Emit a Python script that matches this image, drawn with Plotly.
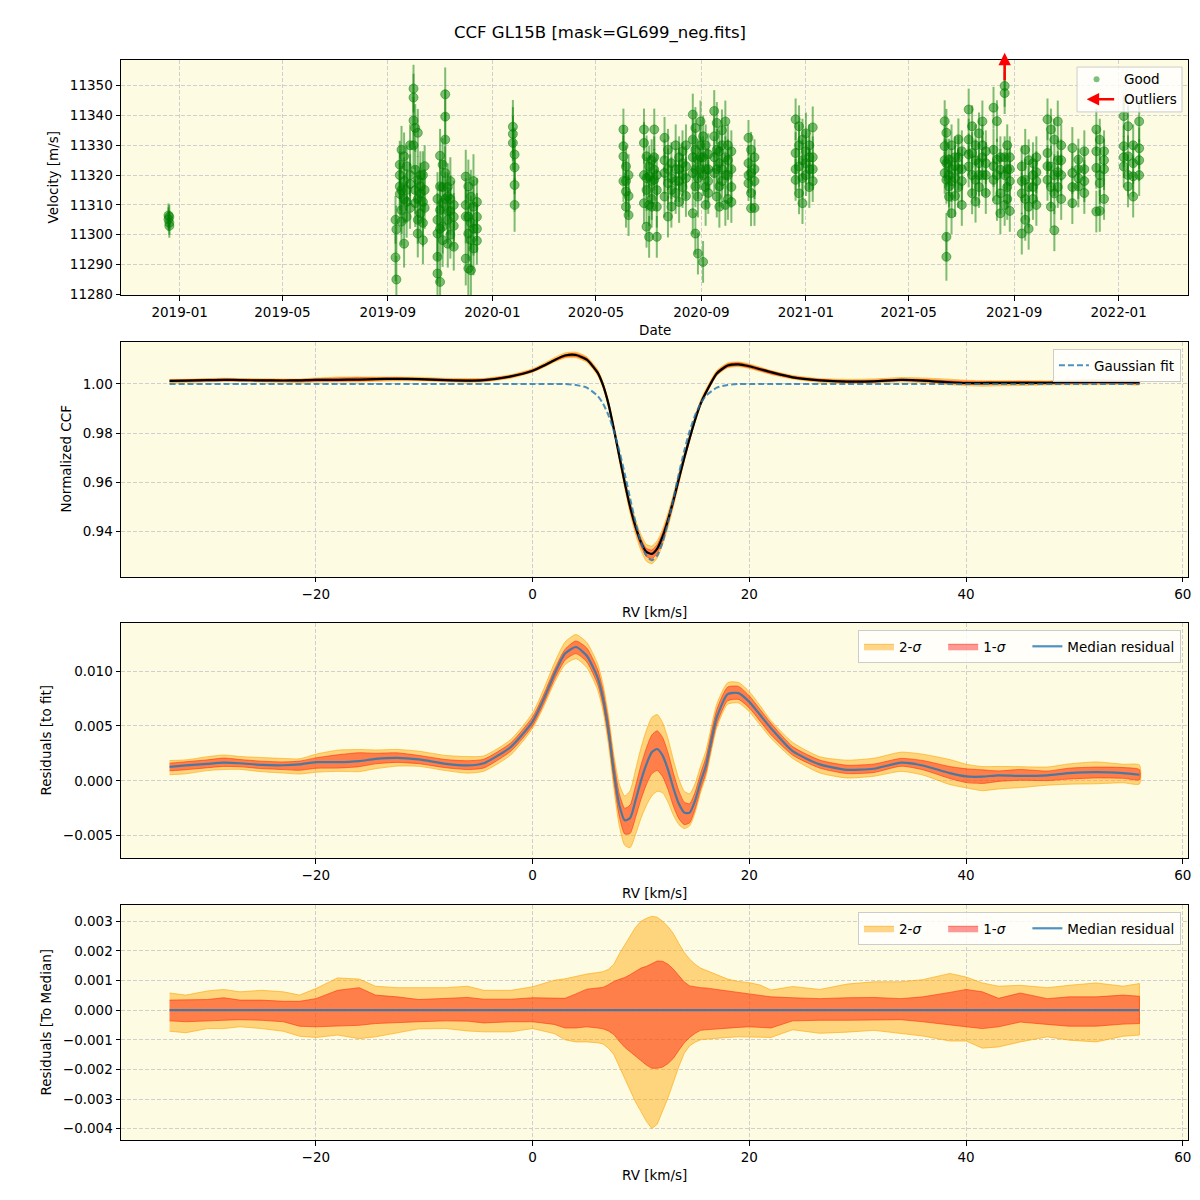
import plotly.graph_objects as go
from plotly.subplots import make_subplots

# ---------------- top panel: RV time series ----------------
night_dates = [
    "2018-12-19", "2018-12-20",
    "2019-09-10", "2019-09-11", "2019-09-15", "2019-09-17", "2019-09-20", "2019-09-23", "2019-09-27",
    "2019-10-01", "2019-10-03", "2019-10-06", "2019-10-09", "2019-10-12", "2019-10-14",
    "2019-10-29", "2019-11-01", "2019-11-04", "2019-11-07", "2019-11-10", "2019-11-13", "2019-11-17",
    "2019-12-01", "2019-12-04", "2019-12-07", "2019-12-10", "2019-12-14",
    "2020-01-25", "2020-01-27",
    "2020-06-02", "2020-06-05", "2020-06-08", "2020-06-26", "2020-06-29", "2020-07-02", "2020-07-05",
    "2020-07-08", "2020-07-11", "2020-07-20", "2020-07-24", "2020-07-28", "2020-08-02", "2020-08-06",
    "2020-08-10", "2020-08-14", "2020-08-22", "2020-08-25", "2020-08-28", "2020-08-31", "2020-09-03",
    "2020-09-06", "2020-09-09", "2020-09-16", "2020-09-19", "2020-09-22", "2020-09-25", "2020-09-29",
    "2020-10-02", "2020-10-06", "2020-10-26", "2020-10-29", "2020-11-02",
    "2020-12-20", "2020-12-24", "2020-12-28", "2021-01-01", "2021-01-05", "2021-01-09",
    "2021-06-12", "2021-06-14", "2021-06-17", "2021-06-20", "2021-06-24", "2021-06-28", "2021-07-02",
    "2021-07-10", "2021-07-14", "2021-07-18", "2021-07-22", "2021-07-26", "2021-07-30",
    "2021-08-08", "2021-08-12", "2021-08-16", "2021-08-21", "2021-08-24", "2021-08-27",
    "2021-09-10", "2021-09-14", "2021-09-18", "2021-09-23", "2021-09-27",
    "2021-10-10", "2021-10-14", "2021-10-18", "2021-10-22", "2021-10-26",
    "2021-11-08", "2021-11-15", "2021-11-22", "2021-12-06", "2021-12-10", "2021-12-15",
    "2022-01-07", "2022-01-12", "2022-01-18", "2022-01-25",
]
night_rv = [
    [11306.5, 11305.2], [11304.0, 11303.0, 11306.0],
    [11305.0, 11292.4], [11301.8, 11285.0], [11323.5, 11316.2, 11313.7, 11320.0],
    [11328.5, 11308.3, 11304.4, 11315.0], [11326.3, 11297.0, 11318.0, 11312.0],
    [11323.0, 11315.0, 11311.0, 11306.0], [11320.0, 11309.0, 11330.0, 11317.0],
    [11349.0, 11346.0, 11338.3, 11330.0], [11335.8, 11321.8, 11310.6, 11315.0],
    [11334.2, 11318.4, 11305.0, 11300.4, 11312.0], [11316.2, 11313.9, 11307.2, 11320.0],
    [11298.2, 11320.0, 11311.0, 11304.0], [11323.0, 11309.0, 11315.0],
    [11300.4, 11292.6, 11287.0, 11305.0, 11312.0], [11326.5, 11316.2, 11308.3, 11284.2, 11302.0],
    [11323.5, 11310.6, 11302.7, 11298.2, 11316.0], [11347.1, 11339.6, 11331.9, 11320.7, 11312.0],
    [11312.8, 11305.0, 11297.0, 11316.0, 11308.0], [11308.0, 11300.0, 11318.0, 11312.0],
    [11310.0, 11303.0, 11296.0, 11306.0],
    [11319.5, 11306.1, 11292.0, 11310.0], [11316.2, 11300.4, 11288.7, 11306.0],
    [11312.8, 11298.2, 11288.1, 11304.0], [11309.4, 11295.4, 11318.0, 11302.0],
    [11311.0, 11306.0, 11302.0, 11298.0],
    [11336.2, 11333.8, 11330.8], [11326.9, 11322.6, 11316.7, 11310.0],
    [11335.3, 11329.7, 11326.3, 11318.0], [11322.9, 11314.5, 11309.4, 11318.0], [11306.6, 11320.0, 11313.0],
    [11335.3, 11330.8, 11310.6, 11320.0], [11326.3, 11315.0, 11302.7, 11319.0],
    [11322.9, 11319.6, 11299.3, 11310.0], [11309.4, 11318.0, 11312.0, 11325.0],
    [11335.3, 11321.8, 11318.4, 11326.0], [11315.0, 11309.4, 11299.3, 11320.0],
    [11332.5, 11320.7, 11312.8, 11325.0], [11328.5, 11317.3, 11306.1, 11322.0],
    [11324.0, 11309.4, 11315.0, 11319.0], [11330.0, 11322.0, 11314.0, 11318.0],
    [11326.0, 11318.0, 11311.0, 11322.0], [11328.0, 11320.0, 11316.0, 11324.0],
    [11330.0, 11323.0, 11313.0, 11319.0], [11340.3, 11331.9, 11320.7, 11307.2, 11326.0],
    [11335.8, 11328.5, 11316.2, 11300.4, 11322.0], [11325.2, 11312.8, 11293.7, 11319.0],
    [11338.0, 11326.0, 11322.0, 11330.0], [11333.0, 11320.0, 11290.9, 11326.0],
    [11330.0, 11316.0, 11310.0, 11322.0], [11327.0, 11322.0, 11314.0, 11318.0],
    [11341.5, 11333.0, 11320.7, 11326.0], [11337.5, 11328.5, 11312.8, 11322.0],
    [11324.0, 11316.2, 11309.4, 11328.0], [11335.0, 11322.0, 11318.0, 11330.0],
    [11338.0, 11326.0, 11310.0, 11320.0], [11330.0, 11320.0, 11312.0, 11325.0],
    [11328.0, 11316.0, 11322.0, 11311.0], [11332.5, 11324.0, 11317.3, 11320.0],
    [11328.5, 11320.7, 11308.9, 11314.0], [11326.0, 11318.0, 11309.0, 11322.0],
    [11338.7, 11327.4, 11318.4, 11322.0], [11336.4, 11322.9, 11313.9, 11330.0],
    [11331.9, 11325.0, 11310.6, 11319.0], [11334.0, 11328.0, 11320.0, 11324.0],
    [11330.0, 11322.0, 11316.0, 11326.0], [11336.0, 11326.0, 11318.0, 11322.0],
    [11338.1, 11329.7, 11320.7, 11325.0], [11334.2, 11318.4, 11299.3, 11292.6, 11324.0],
    [11325.2, 11316.2, 11312.8, 11320.0], [11330.0, 11322.0, 11307.2, 11318.0],
    [11326.0, 11319.0, 11313.0, 11323.0], [11332.0, 11322.0, 11316.0, 11326.0],
    [11328.0, 11318.0, 11310.0, 11322.0], [11342.0, 11331.9, 11322.9, 11327.0],
    [11336.4, 11327.4, 11313.9, 11320.0], [11330.0, 11318.4, 11311.1, 11325.0],
    [11334.0, 11324.0, 11316.0, 11320.0], [11338.0, 11326.0, 11320.0, 11330.0],
    [11328.0, 11320.0, 11314.0, 11324.0], [11342.6, 11328.5, 11318.4, 11323.0],
    [11338.1, 11325.2, 11311.7, 11320.0], [11321.8, 11313.9, 11307.2, 11326.0],
    [11349.9, 11347.5, 11320.0, 11310.0, 11326.0], [11330.0, 11322.0, 11316.0, 11312.0],
    [11326.0, 11318.0, 11308.0, 11322.0], [11322.9, 11313.9, 11300.4, 11318.0],
    [11328.5, 11318.4, 11305.0, 11312.0], [11325.0, 11309.4, 11302.0, 11316.0],
    [11320.0, 11312.0, 11316.0, 11324.0], [11326.0, 11318.0, 11310.0, 11321.0],
    [11338.7, 11327.4, 11318.4, 11323.0], [11335.3, 11322.9, 11309.4, 11316.0],
    [11331.9, 11313.9, 11301.5, 11320.0], [11338.0, 11325.0, 11316.0, 11321.0],
    [11330.0, 11320.0, 11312.0, 11325.0], [11329.1, 11320.7, 11310.6, 11316.0],
    [11325.2, 11316.2, 11322.0, 11319.0], [11328.0, 11318.0, 11314.0, 11322.0],
    [11335.3, 11322.4, 11307.8, 11328.0], [11331.9, 11317.3, 11308.0, 11320.0],
    [11328.0, 11322.0, 11312.0, 11325.0], [11339.8, 11329.7, 11322.9, 11326.0],
    [11336.4, 11326.3, 11316.2, 11320.0], [11330.0, 11319.6, 11312.8, 11324.0],
    [11338.0, 11325.0, 11320.0, 11329.0],
]
night_err = [
    4, 4,
    8, 8, 8, 8, 8, 7, 7,
    8, 8, 8, 8, 8, 7,
    9, 9, 9, 9, 8, 8, 8,
    9, 9, 9, 9, 8,
    9, 9,
    7, 7, 7, 7, 7, 7, 7,
    7, 7, 7, 7, 7, 7, 7,
    7, 7, 7, 7, 7, 7, 7,
    7, 7, 7, 7, 7, 7, 7,
    7, 7, 6, 6, 6,
    7, 7, 7, 7, 7, 7,
    7, 8, 7, 7, 7, 7, 7,
    7, 7, 7, 7, 7, 7,
    7, 7, 7, 7, 7, 7,
    7, 7, 7, 7, 7,
    7, 7, 7, 7, 7,
    7, 7, 7, 7, 7, 7,
    7, 7, 7, 7,
]
outlier_date = "2021-08-21"

# ---------------- CCF panels (RV grid in km/s) ----------------
rv_grid = [-33.5, -32, -30, -28.5, -27, -25, -23, -21.5, -20, -18,
           -16, -14.5, -12.5, -10.5, -8, -6, -4.5, -2, 0, 1,
           2, 3, 4, 5, 6, 6.5, 7, 7.5, 8, 8.5,
           9, 9.5, 10, 10.5, 11, 11.5, 12, 12.5, 13, 13.5,
           14, 14.5, 15, 15.5, 16, 17, 18, 19, 20, 21,
           22, 24, 26.5, 29, 31.5, 34, 36, 38.5, 40, 41.5,
           43, 45, 47.5, 49.5, 52, 54.5, 56]
gauss_fit = [1.0] * 22 + [
    0.9996, 0.9985, 0.9952, 0.9920, 0.9873, 0.9809, 0.9729, 0.9635, 0.9534, 0.9437,
    0.9356, 0.9301, 0.9282, 0.9301, 0.9356, 0.9437, 0.9534, 0.9635, 0.9729, 0.9809,
    0.9873, 0.9920, 0.9952, 0.9985, 0.9996] + [1.0] * 20
resid_median = [0.00127, 0.0014, 0.00155, 0.00165, 0.0016, 0.00145, 0.00142, 0.0015, 0.0017, 0.0017,
                0.0018, 0.002, 0.0021, 0.00195, 0.00155, 0.0014, 0.0016, 0.0031, 0.0054, 0.0074,
                0.0097, 0.0116, 0.0122, 0.0114, 0.0094, 0.0075, 0.0046, 0.0008, -0.0022, -0.0036,
                -0.0034, -0.0018, 0.0, 0.0015, 0.0026, 0.0029, 0.0023, 0.001, -0.0007, -0.0021,
                -0.0029, -0.0029, -0.0018, -0.0001, 0.0014, 0.0058, 0.0079, 0.008, 0.0072, 0.006,
                0.0048, 0.0027, 0.0015, 0.001, 0.0011, 0.00165, 0.0014, 0.0007, 0.0004, 0.00038,
                0.0005, 0.00045, 0.0005, 0.0007, 0.0008, 0.0007, 0.00055]
# spread of residuals around their median, in units of 1e-5
sig2_hi = [58, 51, 65, 70, 62, 67, 62, 51, 73, 109,
           105, 81, 76, 75, 76, 81, 67, 67, 79, 90,
           101, 106, 114, 122, 127, 130, 138, 155, 190, 222,
           250, 280, 300, 310, 317, 314, 300, 282, 258, 225,
           195, 172, 155, 142, 135, 120, 105, 97, 93, 85,
           68, 80, 70, 88, 96, 96, 103, 124, 112, 92,
           81, 84, 76, 84, 92, 81, 90]
sig1_hi = [34, 34, 36, 42, 34, 34, 30, 30, 39, 67,
           76, 51, 45, 36, 39, 43, 37, 37, 42, 42,
           42, 40, 55, 71, 75, 77, 86, 97, 104, 110,
           120, 132, 142, 148, 158, 166, 165, 155, 138, 118,
           95, 82, 78, 76, 75, 70, 65, 61, 55, 50,
           45, 42, 39, 42, 43, 39, 45, 60, 70, 62,
           40, 58, 39, 45, 45, 51, 47]
sig1_lo = [-36, -39, -36, -34, -32, -34, -39, -54, -56, -54,
           -51, -45, -42, -39, -36, -37, -43, -39, -39, -44,
           -48, -60, -60, -56, -60, -63, -70, -82, -105, -125,
           -140, -155, -170, -185, -196, -196, -192, -180, -162, -135,
           -110, -92, -78, -68, -66, -62, -60, -58, -56, -57,
           -60, -36, -34, -34, -34, -32, -39, -49, -56, -62,
           -56, -40, -48, -54, -54, -47, -45]
sig2_lo = [-71, -76, -62, -62, -56, -62, -71, -88, -92, -84,
           -96, -90, -76, -63, -62, -70, -73, -73, -62, -70,
           -79, -100, -107, -107, -110, -114, -128, -150, -190, -228,
           -270, -310, -342, -375, -399, -385, -340, -295, -245, -190,
           -145, -120, -108, -100, -98, -94, -92, -90, -90, -91,
           -92, -66, -78, -74, -68, -79, -87, -104, -104, -128,
           -124, -107, -90, -101, -107, -88, -84]

ccf_median = [f + r for f, r in zip(gauss_fit, resid_median)]
zero_line = [0.0] * len(rv_grid)

# ---------------- figure ----------------
fig = make_subplots(rows=4, cols=1)

dates, vels, errs = [], [], []
for d, vs, e in zip(night_dates, night_rv, night_err):
    for v in vs:
        dates.append(d)
        vels.append(v)
        errs.append(e)

green = "rgba(0,128,0,0.5)"
fig.add_trace(go.Scatter(
    x=dates, y=vels, mode="markers", showlegend=False,
    marker=dict(size=9, color=green, line=dict(width=1, color=green)),
    error_y=dict(type="data", array=errs, color=green, thickness=2, width=0),
), row=1, col=1)

S2_FILL, S2_EDGE = "rgba(255,165,0,0.45)", "rgba(255,165,0,0.6)"
S1_FILL, S1_EDGE = "rgba(255,0,0,0.4)", "rgba(255,40,0,0.55)"
BLUE = "rgba(31,119,180,0.8)"
PAD = "\u00a0" * 4  # widens the horizontal legend entries


def add_band(base, hi, lo, fill, edge, row, name=None, legend=None, spline=True):
    y_hi = [b + h * 1e-5 for b, h in zip(base, hi)]
    y_lo = [b + l * 1e-5 for b, l in zip(base, lo)]
    line = dict(color=edge, width=1)
    if spline:
        line.update(shape="spline", smoothing=0.6)
    fig.add_trace(go.Scatter(
        x=rv_grid + rv_grid[::-1], y=y_hi + y_lo[::-1],
        mode="lines", fill="toself", fillcolor=fill, line=line,
        name=name, showlegend=name is not None, legend=legend, hoverinfo="skip",
    ), row=row, col=1)


# panel 2: CCF
add_band(ccf_median, sig2_hi, sig2_lo, S2_FILL, S2_EDGE, 2)
add_band(ccf_median, sig1_hi, sig1_lo, S1_FILL, S1_EDGE, 2)
fig.add_trace(go.Scatter(x=rv_grid, y=ccf_median, mode="lines", showlegend=False,
                         line=dict(color="black", width=2.2, shape="spline", smoothing=0.6)), row=2, col=1)
fig.add_trace(go.Scatter(x=rv_grid, y=gauss_fit, mode="lines", name="Gaussian fit", legend="legend",
                         line=dict(color=BLUE, width=2, dash="6px,3px", shape="spline", smoothing=0.6)),
              row=2, col=1)

# panel 3: residuals to fit
add_band(resid_median, sig2_hi, sig2_lo, S2_FILL, S2_EDGE, 3, "2-<i>σ</i>" + PAD, "legend2")
add_band(resid_median, sig1_hi, sig1_lo, S1_FILL, S1_EDGE, 3, "1-<i>σ</i>" + PAD, "legend2")
fig.add_trace(go.Scatter(x=rv_grid, y=resid_median, mode="lines", name="Median residual", legend="legend2",
                         line=dict(color=BLUE, width=2.2, shape="spline", smoothing=0.6)), row=3, col=1)

# panel 4: residuals to median
add_band(zero_line, sig2_hi, sig2_lo, S2_FILL, S2_EDGE, 4, "2-<i>σ</i>" + PAD, "legend3", spline=False)
add_band(zero_line, sig1_hi, sig1_lo, S1_FILL, S1_EDGE, 4, "1-<i>σ</i>" + PAD, "legend3", spline=False)
fig.add_trace(go.Scatter(x=rv_grid, y=zero_line, mode="lines", name="Median residual", legend="legend3",
                         line=dict(color=BLUE, width=2.2)), row=4, col=1)

axis_style = dict(showline=True, linecolor="black", linewidth=1, mirror=True,
                  ticks="outside", ticklen=4.5, tickwidth=1, tickcolor="black",
                  showgrid=True, gridcolor="#cfcfcf", gridwidth=1, griddash="4px,2px",
                  zeroline=False)
for i in range(1, 5):
    fig.update_xaxes(axis_style, row=i, col=1)
    fig.update_yaxes(axis_style, row=i, col=1)

fig.update_xaxes(type="date", range=["2018-10-24 14:00", "2022-03-23"], tick0="2019-01-01",
                 dtick="M4", tickformat="%Y-%m", row=1, col=1)
fig.update_yaxes(range=[11279.8, 11358.6], tick0=11280, dtick=10, tickformat="d", row=1, col=1)
for i in (2, 3, 4):
    fig.update_xaxes(range=[-37.98, 60.48], tick0=0, dtick=20, row=i, col=1)
fig.update_yaxes(range=[0.9214, 1.0171], tick0=0.94, dtick=0.02, tickformat=".2f", row=2, col=1)
fig.update_yaxes(range=[-0.00704, 0.01439], tick0=0, dtick=0.005, tickformat=".3f", row=3, col=1)
fig.update_yaxes(range=[-0.00438, 0.00355], tick0=0, dtick=0.001, tickformat=".3f", row=4, col=1)

legend_box = dict(bgcolor="rgba(255,255,255,0.8)", bordercolor="#cccccc", borderwidth=1,
                  xanchor="right", yanchor="top", x=0.9934, font=dict(size=13.5))
# the page body adds an 8 px offset, so margins are shifted to compensate
fig.update_layout(
    width=1200, height=1200,
    margin=dict(l=113, r=20, t=52, b=68),
    paper_bgcolor="white", plot_bgcolor="#fdfbe2",
    font=dict(family="DejaVu Sans", size=13.5, color="black"),
    title=dict(text="CCF GL15B [mask=GL699_neg.fits]", x=(600 - 8) / 1200, xref="container",
               xanchor="center", y=1 - 24 / 1200, yref="container", yanchor="middle",
               font=dict(size=16.5)),
    yaxis_domain=[0.7824, 1.0], yaxis2_domain=[0.5213, 0.7389],
    yaxis3_domain=[0.2611, 0.4787], yaxis4_domain=[0.0, 0.2176],
    legend=dict(legend_box, y=0.7324),
    legend2=dict(legend_box, y=0.4722, orientation="h"),
    legend3=dict(legend_box, y=0.2111, orientation="h"),
)

# axis titles
titles = [
    ("Velocity [m/s]", 0.8912, -68),
    ("Normalized CCF", 0.6301, -55),
    ("Residuals [to fit]", 0.3699, -75),
    ("Residuals [To Median]", 0.1088, -75),
]
for text, yc, shift in titles:
    fig.add_annotation(text=text, xref="paper", yref="paper", x=0, y=yc, xshift=shift,
                       textangle=-90, showarrow=False, xanchor="center", yanchor="middle")
for text, yc in [("Date", 0.75), ("RV [km/s]", 0.4889), ("RV [km/s]", 0.2287), ("RV [km/s]", -0.0324)]:
    fig.add_annotation(text=text, xref="paper", yref="paper", x=0.5, y=yc,
                       showarrow=False, xanchor="center", yanchor="middle")

# outlier arrow above the top panel
fig.add_annotation(x=outlier_date, y=1.031, xref="x", yref="y domain", ax=0, ay=29,
                   showarrow=True, arrowhead=2, arrowsize=1, arrowwidth=2.5, arrowcolor="red", text="")

# hand-made legend for the top panel
fig.add_shape(type="rect", xref="x domain", yref="y domain", x0=0.896, x1=0.9944, y0=0.779, y1=0.970,
              fillcolor="rgba(255,255,255,0.8)", line=dict(color="#cccccc", width=1))
fig.add_shape(type="circle", xref="x domain", yref="y domain", x0=0.9115, x1=0.9171, y0=0.9051, y1=0.9307,
              fillcolor=green, line=dict(width=0))
fig.add_annotation(text="Good", xref="x domain", yref="y domain", x=0.9386, y=0.9179,
                   showarrow=False, xanchor="left", yanchor="middle")
fig.add_annotation(text="Outliers", xref="x domain", yref="y domain", x=0.9386, y=0.8328,
                   showarrow=False, xanchor="left", yanchor="middle")
fig.add_annotation(x=0.905, y=0.8328, xref="x domain", yref="y domain", ax=29, ay=0,
                   showarrow=True, arrowhead=2, arrowsize=1, arrowwidth=2.5, arrowcolor="red", text="")

fig.write_html("out.html")
